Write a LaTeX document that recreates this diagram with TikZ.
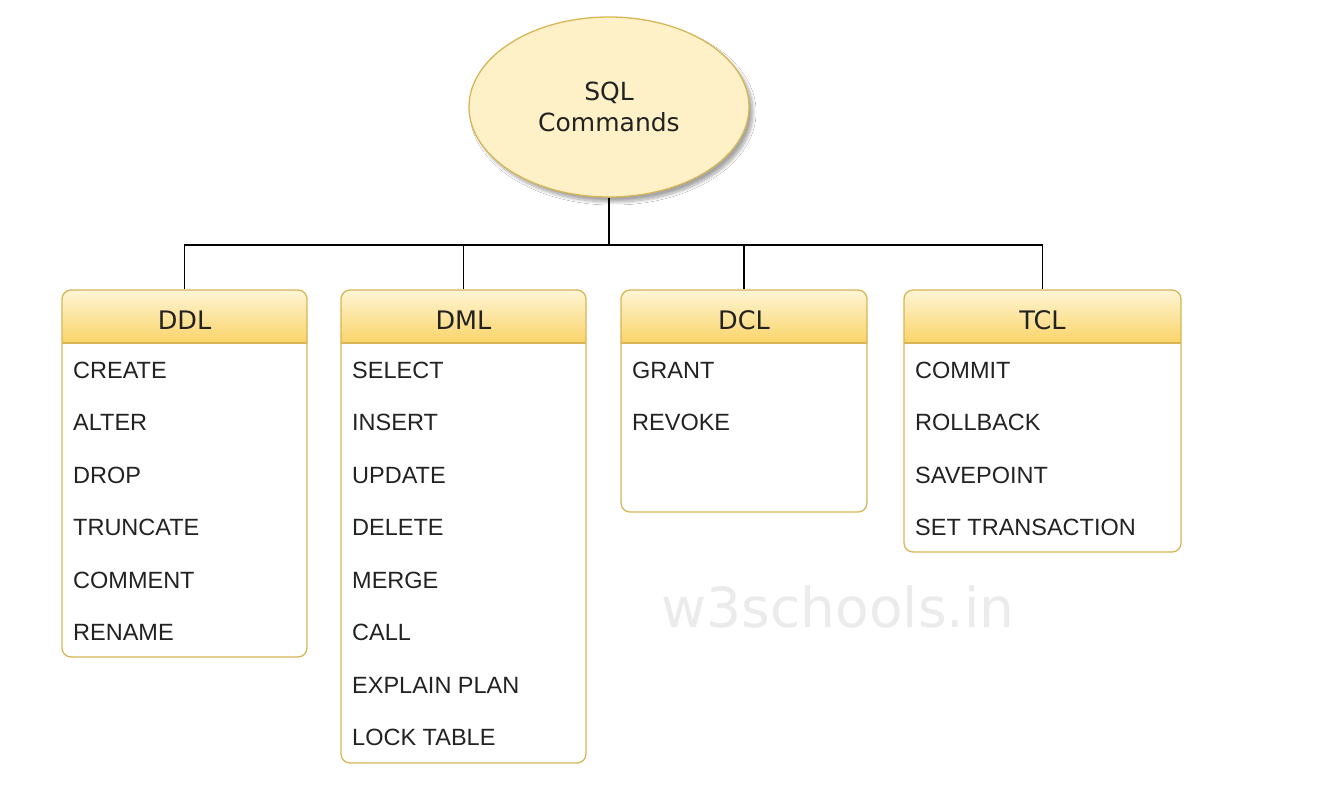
\documentclass[tikz,border=0pt]{standalone}
\usepackage{fontspec}
\setmainfont{Liberation Sans}
\newfontfamily\verd{DejaVu Sans}
\usetikzlibrary{shapes.geometric,shadows.blur}
\definecolor{hdtop}{HTML}{FFF5D6}
\definecolor{hdbot}{HTML}{FAD468}
\definecolor{bord}{HTML}{D6B656}
\definecolor{ellfill}{HTML}{FFF1C7}
\definecolor{txt}{HTML}{222222}
\newcommand\catbox[6]{%
  \begin{scope}
    \clip[rounded corners=9] (#2,290) rectangle (#3,#4);
    \shade[top color=hdtop, bottom color=hdbot] (#2,290) rectangle (#3,343);
  \end{scope}
  \draw[bord, line width=1.3] (#2,343) -- (#3,343);
  \node[frame, minimum width={(#3-#2)*1pt}, minimum height={(#4-290)*1pt}] (#1) at ({(#2+#3)/2},{(290+#4)/2}) {};
  \node[hdr] (#1-h) at ({(#2+#3)/2},320) {#5};
  \foreach \t [count=\i] in {#6}
    \node[item] (#1-\i) at (#2+11,{378.5+(\i-1)*52.45}) {\t};
}
\begin{document}
\begin{tikzpicture}[x=1pt,y=-1pt,
  frame/.style={draw=bord, line width=1.3, rounded corners=9, inner sep=0pt},
  hdr/.style={font=\verd\fontsize{25.5}{29}\selectfont, text=txt, inner sep=0pt},
  item/.style={font=\fontsize{23.5}{28}\selectfont, text=txt, anchor=base west, inner sep=0pt},
  conn/.style={draw=black, line width=1.5},
  root/.style={ellipse, draw=bord, line width=1.3, fill=ellfill, minimum width=280pt, minimum height=180pt, inner sep=0pt, align=center, font=\verd\fontsize{25}{31}\selectfont, text=txt,
    blur shadow={shadow xshift=4pt, shadow yshift=-5pt, shadow blur steps=12, shadow blur radius=3pt, shadow opacity=35}}
]
\fill[white] (0,0) rectangle (1320,800);
\useasboundingbox (0,0) rectangle (1320,800);

\node[text=black!8, font=\verd\fontsize{55}{60}\selectfont, inner sep=0pt] (wm) at (838,607) {w3schools.in};

\node[root] (root) at (609,107) {SQL\\Commands};

\catbox{ddl}{62}{307}{657}{DDL}{CREATE,ALTER,DROP,TRUNCATE,COMMENT,RENAME}
\catbox{dml}{341}{586}{763}{DML}{SELECT,INSERT,UPDATE,DELETE,MERGE,CALL,EXPLAIN PLAN,LOCK TABLE}
\catbox{dcl}{621}{867}{512}{DCL}{GRANT,REVOKE}
\catbox{tcl}{904}{1181}{552}{TCL}{COMMIT,ROLLBACK,SAVEPOINT,SET TRANSACTION}

\coordinate (bus) at (609,245);
\draw[conn] (root.south) -- (bus);
\draw[conn] (bus) -| (ddl.north);
\draw[conn] (bus) -| (dml.north);
\draw[conn] (bus) -| (dcl.north);
\draw[conn] (bus) -| (tcl.north);
\end{tikzpicture}
\end{document}
